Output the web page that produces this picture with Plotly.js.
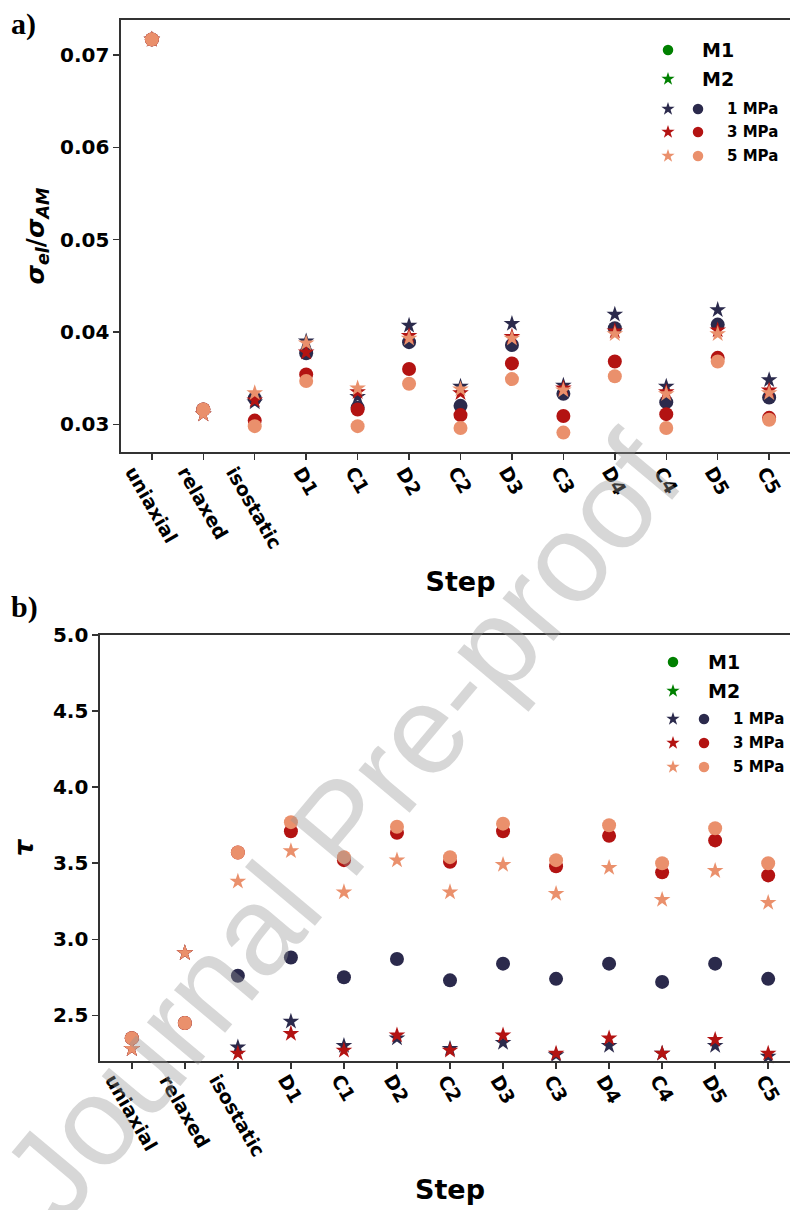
<!DOCTYPE html>
<html>
<head>
<meta charset="utf-8">
<script src="https://cdn.plot.ly/plotly-3.0.1.min.js"></script>
<style>html,body{margin:0;padding:0;overflow:hidden;background:#fff}</style>
</head>
<body>
<div id="chart"></div>
<script>
// ---------- data ----------
const categories = ['uniaxial','relaxed','isostatic','D1','C1','D2','C2','D3','C3','D4','C4','D5','C5'];

// panel a) sigma_el / sigma_AM
const sigM1_1MPa = [0.0717, 0.0316, 0.0328, 0.0377, 0.0318, 0.0389, 0.0320, 0.0386, 0.0333, 0.0404, 0.0324, 0.0408, 0.0329];
const sigM1_3MPa = [0.0717, 0.0316, 0.0304, 0.0354, 0.0316, 0.0360, 0.0310, 0.0366, 0.0309, 0.0368, 0.0311, 0.0372, 0.0307];
const sigM1_5MPa = [0.0717, 0.0316, 0.0298, 0.0347, 0.0298, 0.0344, 0.0296, 0.0349, 0.0291, 0.0352, 0.0296, 0.0368, 0.0305];
const sigM2_1MPa = [0.0717, 0.0311, 0.0324, 0.0390, 0.0330, 0.0407, 0.0341, 0.0409, 0.0342, 0.0419, 0.0341, 0.0424, 0.0348];
const sigM2_3MPa = [0.0717, 0.0311, 0.0326, 0.0378, 0.0335, 0.0396, 0.0334, 0.0395, 0.0339, 0.0401, 0.0335, 0.0402, 0.0337];
const sigM2_5MPa = [0.0717, 0.0311, 0.0334, 0.0388, 0.0339, 0.0393, 0.0338, 0.0393, 0.0337, 0.0398, 0.0333, 0.0398, 0.0334];

// panel b) tau
const tauM1_1MPa = [2.35, 2.45, 2.76, 2.88, 2.75, 2.87, 2.73, 2.84, 2.74, 2.84, 2.72, 2.84, 2.74];
const tauM1_3MPa = [2.35, 2.45, 3.57, 3.71, 3.52, 3.70, 3.51, 3.71, 3.48, 3.68, 3.44, 3.65, 3.42];
const tauM1_5MPa = [2.35, 2.45, 3.57, 3.77, 3.54, 3.74, 3.54, 3.76, 3.52, 3.75, 3.50, 3.73, 3.50];
const tauM2_1MPa = [2.28, 2.91, 2.29, 2.46, 2.30, 2.35, 2.28, 2.32, 2.24, 2.30, 2.25, 2.30, 2.23];
const tauM2_3MPa = [2.28, 2.91, 2.25, 2.38, 2.27, 2.37, 2.27, 2.37, 2.25, 2.35, 2.25, 2.34, 2.25];
const tauM2_5MPa = [2.28, 2.91, 3.38, 3.58, 3.31, 3.52, 3.31, 3.49, 3.30, 3.47, 3.26, 3.45, 3.24];

const yTicksA = [0.03, 0.04, 0.05, 0.06, 0.07];
const yTicksB = [2.5, 3.0, 3.5, 4.0, 4.5, 5.0];
const pressureLabels = ['1 MPa', '3 MPa', '5 MPa'];
const methodLabels = ['M1', 'M2'];

// ---------- styles ----------
const colors = ['#2B2A4C', '#B31312', '#EA906C'];
const green = '#008000';
const axisColor = '#333333';
const tickFont = {family: 'DejaVu Sans', size: 20, weight: 'bold', color: '#000'};
const xTickFont = {family: 'DejaVu Sans', size: 19, weight: 'bold', color: '#000'};

const traces = [];
function addPanel(xa, ya, m1, m2) {
  for (let i = 0; i < 3; i++) {
    traces.push({type: 'scatter', mode: 'markers', x: categories, y: m1[i], xaxis: xa, yaxis: ya,
      name: 'M1 ' + pressureLabels[i], cliponaxis: false,
      marker: {symbol: 'circle', size: 14, color: colors[i], line: {width: 0}}});
    traces.push({type: 'scatter', mode: 'markers', x: categories, y: m2[i], xaxis: xa, yaxis: ya,
      name: 'M2 ' + pressureLabels[i], cliponaxis: false,
      marker: {symbol: 'star', size: 12.5, color: colors[i], line: {width: 0}}});
  }
}
addPanel('x', 'y', [sigM1_1MPa, sigM1_3MPa, sigM1_5MPa], [sigM2_1MPa, sigM2_3MPa, sigM2_5MPa]);
addPanel('x2', 'y2', [tauM1_1MPa, tauM1_3MPa, tauM1_5MPa], [tauM2_1MPa, tauM2_3MPa, tauM2_5MPa]);

// ---------- custom legends (pixel-coordinate overlay axis x3/y3) ----------
const annotations = [];
function addLegend(xStar, xCirc, xText, xTextM, yRows) {
  traces.push({type: 'scatter', mode: 'markers', x: [xStar], y: [yRows[0]], xaxis: 'x3', yaxis: 'y3',
    hoverinfo: 'skip', cliponaxis: false, marker: {symbol: 'circle', size: 10.5, color: green}});
  traces.push({type: 'scatter', mode: 'markers', x: [xStar], y: [yRows[1]], xaxis: 'x3', yaxis: 'y3',
    hoverinfo: 'skip', cliponaxis: false, marker: {symbol: 'star', size: 10, color: green}});
  methodLabels.forEach((t, k) => annotations.push({xref: 'x3', yref: 'y3', x: xTextM, y: yRows[k],
    xanchor: 'left', yanchor: 'middle', showarrow: false, text: t,
    font: {family: 'DejaVu Sans', size: 19, weight: 'bold', color: '#000'}}));
  for (let i = 0; i < 3; i++) {
    traces.push({type: 'scatter', mode: 'markers', x: [xStar], y: [yRows[2 + i]], xaxis: 'x3', yaxis: 'y3',
      hoverinfo: 'skip', cliponaxis: false, marker: {symbol: 'star', size: 10, color: colors[i]}});
    traces.push({type: 'scatter', mode: 'markers', x: [xCirc], y: [yRows[2 + i]], xaxis: 'x3', yaxis: 'y3',
      hoverinfo: 'skip', cliponaxis: false, marker: {symbol: 'circle', size: 10.5, color: colors[i]}});
    annotations.push({xref: 'x3', yref: 'y3', x: xText, y: yRows[2 + i], xanchor: 'left', yanchor: 'middle',
      showarrow: false, text: pressureLabels[i],
      font: {family: 'DejaVu Sans', size: 15, weight: 'bold', color: '#000'}});
  }
}
addLegend(668, 698, 725, 700, [50, 79, 109, 132, 156]);
addLegend(673, 704, 731, 706, [662, 691, 719, 743, 767]);

// category tick labels (rotated, centred under each tick)
categories.forEach(c => {
  annotations.push({xref: 'x', yref: 'y3', x: c, y: 460, xanchor: 'center', yanchor: 'top',
    textangle: 60, showarrow: false, text: c, font: xTickFont});
  annotations.push({xref: 'x2', yref: 'y3', x: c, y: 1068, xanchor: 'center', yanchor: 'top',
    textangle: 60, showarrow: false, text: c, font: xTickFont});
});

// panel letters
annotations.push({xref: 'paper', yref: 'paper', x: -0.13, y: 1.013, xanchor: 'left', yanchor: 'top',
  showarrow: false, text: '<b>a)</b>', font: {family: 'Liberation Serif', size: 30, color: '#000'}});
annotations.push({xref: 'paper', yref: 'paper', x: -0.13, y: 0.523, xanchor: 'left', yanchor: 'top',
  showarrow: false, text: '<b>b)</b>', font: {family: 'Liberation Serif', size: 30, color: '#000'}});

// watermark
annotations.push({xref: 'paper', yref: 'paper', x: 0.345, y: 0.322, xanchor: 'center', yanchor: 'middle',
  textangle: -50, showarrow: false, text: 'Journal Pre-proof',
  font: {family: 'Liberation Sans', size: 126, color: 'rgba(150,150,150,0.38)'}});

const baseX = {
  type: 'category', categoryorder: 'array', categoryarray: categories, range: [-0.6, 12.6],
  showline: true, linecolor: axisColor, linewidth: 1.6, mirror: true,
  ticks: 'outside', ticklen: 6, tickwidth: 1.5, tickcolor: axisColor,
  showticklabels: false, showgrid: false, zeroline: false, automargin: false
};
const baseY = {
  showline: true, linecolor: axisColor, linewidth: 1.6, mirror: true,
  ticks: 'outside', ticklen: 6, tickwidth: 1.5, tickcolor: axisColor,
  tickfont: tickFont, showgrid: false, zeroline: false, automargin: false, tickmode: 'array'
};
const stepTitle = (so) => ({text: '<b>Step</b>', standoff: so,
  font: {family: 'DejaVu Sans', size: 27, color: '#000'}});

const layout = {
  width: 805, height: 1210,
  margin: {l: 100, r: 5, t: 20, b: 0},
  paper_bgcolor: '#fff', plot_bgcolor: 'rgba(0,0,0,0)',
  showlegend: false,
  xaxis: Object.assign({}, baseX, {domain: [0.03, 1], anchor: 'y', title: stepTitle(113)}),
  yaxis: Object.assign({}, baseY, {domain: [0.63697, 1], anchor: 'x', range: [0.0270, 0.0738],
    tickvals: yTicksA, ticktext: yTicksA.map(v => v.toFixed(2)),
    title: {text: '<b><i>σ</i><sub><i>el</i></sub>/<i>σ</i><sub><i>AM</i></sub></b>', standoff: 8,
      font: {family: 'DejaVu Sans', size: 25, color: '#000'}}}),
  xaxis2: Object.assign({}, baseX, {domain: [0, 1], anchor: 'y2', title: stepTitle(112)}),
  yaxis2: Object.assign({}, baseY, {domain: [0.12521, 0.48319], anchor: 'x2', range: [2.2, 5.0],
    tickvals: yTicksB, ticktext: yTicksB.map(v => v.toFixed(1)),
    title: {text: '<b><i>τ</i></b>', standoff: 12,
      font: {family: 'DejaVu Sans', size: 26, color: '#000'}}}),
  xaxis3: {domain: [0, 1], range: [100, 800], visible: false, anchor: 'y3', fixedrange: true},
  yaxis3: {domain: [0, 1], range: [1210, 20], visible: false, anchor: 'x3', fixedrange: true},
  annotations: annotations
};

Plotly.newPlot('chart', traces, layout, {staticPlot: true, displayModeBar: false});
</script>
</body>
</html>
